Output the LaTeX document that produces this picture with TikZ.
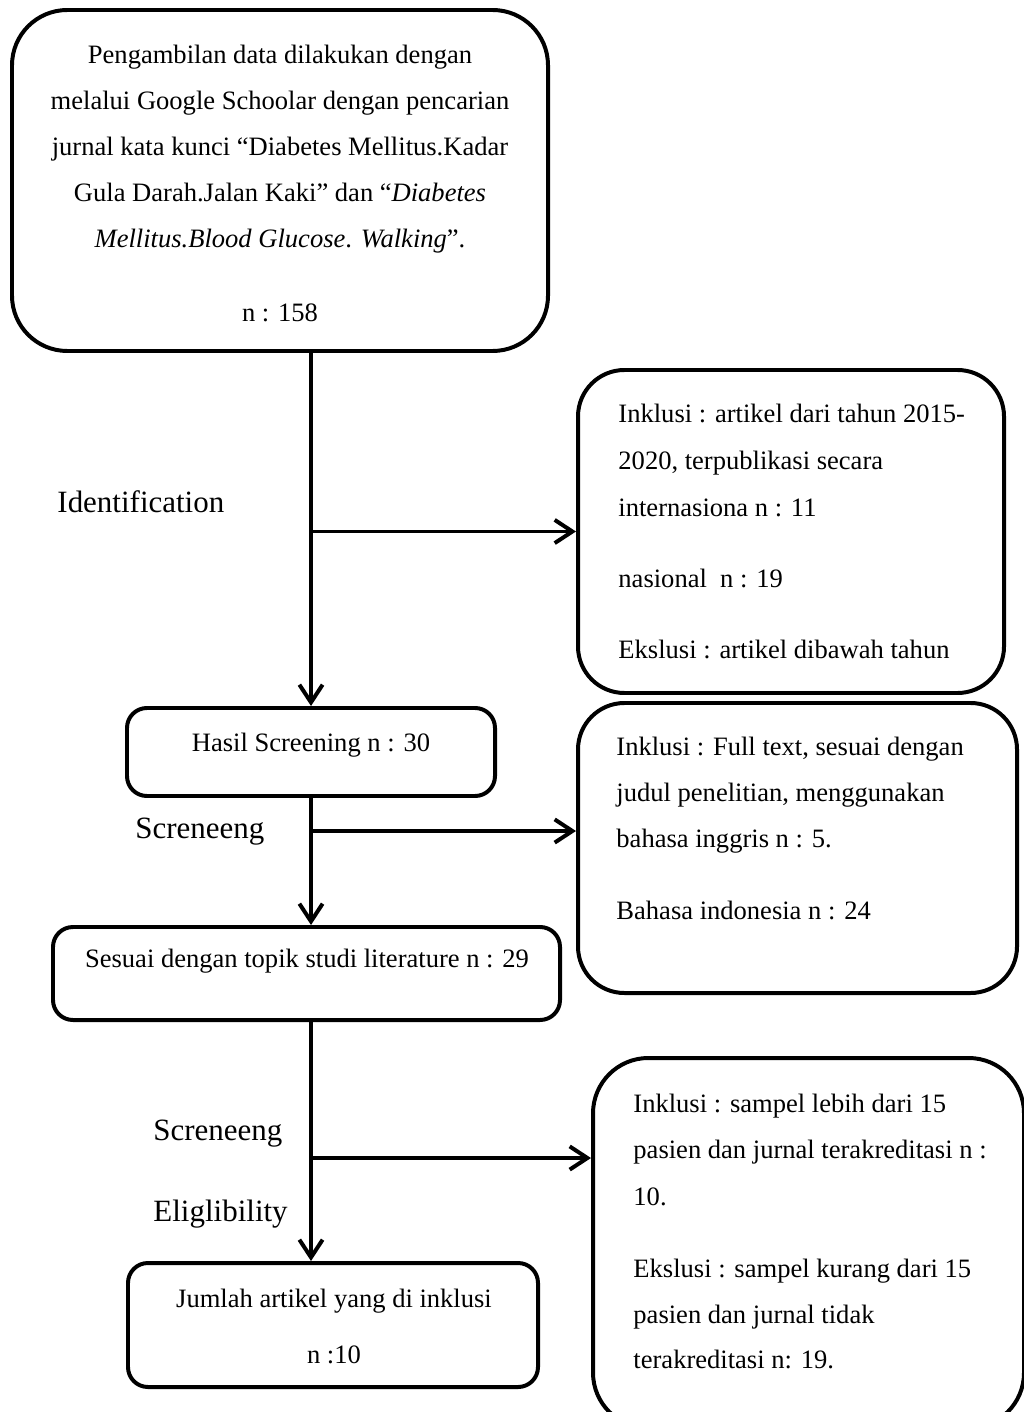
\documentclass[tikz,border=0pt]{standalone}
\usepackage{fontspec}
\setmainfont{Liberation Serif}
\usetikzlibrary{arrows.meta,fit}
\begin{document}
\begin{tikzpicture}[x=0.452pt,y=-0.452pt,
  box/.style={draw, line width=1.8pt, inner sep=0pt},
  txt/.style={inner sep=0pt, font=\fontsize{12pt}{14pt}\selectfont},
  lbl/.style={inner sep=0pt, font=\fontsize{14pt}{17pt}\selectfont},
  conn/.style={line width=1.8pt},
  arr/.style={conn, -{Straight Barb[length=8pt,width=10.5pt]}}
]
\useasboundingbox (0,0) rectangle (1024,1412);
\clip (0,0) rectangle (1024,1412);
\fill[white] (0,0) rectangle (1024,1412);

% boxes
\node[box, rounded corners=25pt, fit={(12,10) (548,351)}] (b1) {};
\node[box, rounded corners=9pt, fit={(127,708) (495,796)}] (b2) {};
\node[box, rounded corners=9pt, fit={(53,927) (560,1020)}] (b3) {};
\node[box, rounded corners=9pt, fit={(128,1263) (538,1387)}] (b4) {};
\node[box, rounded corners=21pt, fit={(578,370) (1004,693)}] (r1) {};
\node[box, rounded corners=21pt, fit={(578,703) (1017,993)}] (r2) {};
\node[box, rounded corners=25pt, fit={(593,1058) (1024,1428)}] (r3) {};

% box 1 text
\node[txt, anchor=base] (t1a) at (280,64) {Pengambilan data dilakukan dengan};
\node[txt, anchor=base] (t1b) at (280,110) {melalui Google Schoolar dengan pencarian};
\node[txt, anchor=base] (t1c) at (280,156) {jurnal kata kunci “Diabetes Mellitus.Kadar};
\node[txt, anchor=base] (t1d) at (280,202) {Gula Darah.Jalan Kaki” dan “\textit{Diabetes}};
\node[txt, anchor=base] (t1e) at (280,248) {\textit{Mellitus.Blood Glucose}. \textit{Walking}”.};
\node[txt, anchor=base] (t1f) at (280,322) {n : 158};

% left column boxes text
\node[txt, anchor=base] (t2) at (311,751) {Hasil Screening n : 30};
\node[txt, anchor=base] (t3) at (307,967) {Sesuai dengan topik studi literature n : 29};
\node[txt, anchor=base] (t4a) at (334,1307) {Jumlah artikel yang di inklusi};
\node[txt, anchor=base] (t4b) at (334,1363) {n :10};

% right boxes text
\node[txt, anchor=base west] (r1a) at (618,423) {Inklusi : artikel dari tahun 2015-};
\node[txt, anchor=base west] (r1b) at (618,470) {2020, terpublikasi secara};
\node[txt, anchor=base west] (r1c) at (618,516) {internasiona n : 11};
\node[txt, anchor=base west] (r1d) at (618,587) {nasional \ n : 19};
\node[txt, anchor=base west] (r1e) at (618,658) {Ekslusi : artikel dibawah tahun};

\node[txt, anchor=base west] (r2a) at (616,755) {Inklusi : Full text, sesuai dengan};
\node[txt, anchor=base west] (r2b) at (616,801) {judul penelitian, menggunakan};
\node[txt, anchor=base west] (r2c) at (616,847) {bahasa inggris n : 5.};
\node[txt, anchor=base west] (r2d) at (616,919) {Bahasa indonesia n : 24};

\node[txt, anchor=base west] (r3a) at (633,1112) {Inklusi : sampel lebih dari 15};
\node[txt, anchor=base west] (r3b) at (633,1158) {pasien dan jurnal terakreditasi n :};
\node[txt, anchor=base west] (r3c) at (633,1205) {10.};
\node[txt, anchor=base west] (r3d) at (633,1277) {Ekslusi : sampel kurang dari 15};
\node[txt, anchor=base west] (r3e) at (633,1323) {pasien dan jurnal tidak};
\node[txt, anchor=base west] (r3f) at (633,1368) {terakreditasi n: 19.};

% stage labels
\node[lbl, anchor=base west] (l1) at (57,512) {Identification};
\node[lbl, anchor=base west] (l2) at (135,838) {Screneeng};
\node[lbl, anchor=base west] (l3) at (153,1140) {Screneeng};
\node[lbl, anchor=base west] (l4) at (153,1221) {Eliglibility};

% connectors
\draw[arr] (b1.south -| b2.north) -- (b2.north);
\coordinate (j1) at (b2.north |- r1.west);
\draw[arr] (j1) -- (r1.west);
\draw[arr] (b2.south) -- (b2.south |- b3.north);
\coordinate (j2) at (b2.south |- 0,831);
\draw[arr] (j2) -- (j2 -| r2.west);
\draw[arr] (b3.south -| b2.south) -- (b4.north -| b2.south);
\coordinate (j3) at (b2.south |- 0,1158);
\draw[arr] (j3) -- (j3 -| r3.west);
\end{tikzpicture}
\end{document}
